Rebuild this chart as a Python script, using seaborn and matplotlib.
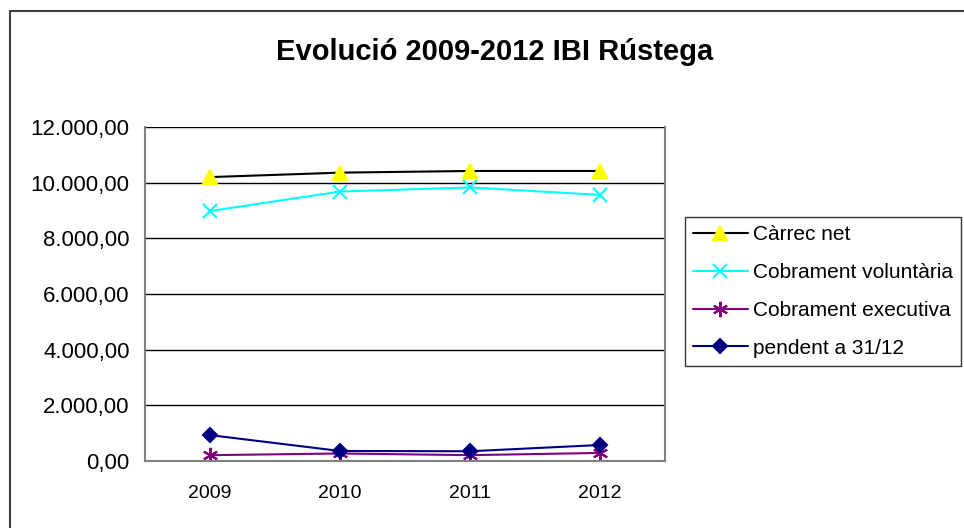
import numpy as np
import matplotlib.pyplot as plt
import matplotlib.ticker as mticker
from matplotlib.lines import Line2D
import seaborn as sns

# Data
years      = ['2009', '2010', '2011', '2012']
carrec_net = [10200, 10360, 10420, 10420]
cobr_vol   = [8980, 9680, 9830, 9560]
cobr_exec  = [210, 270, 210, 290]
pendent    = [930, 360, 350, 575]

series = [
    ('Càrrec net',            carrec_net, 'black',   '^',       '#FFFF00', 10),
    ('Cobrament voluntària',  cobr_vol,   '#00FFFF', 'x',       '#00FFFF', 10),
    ('Cobrament executiva',   cobr_exec,  '#800080', (6, 2, 0), '#800080', 11),
    ('pendent a 31/12',       pendent,    '#000080', 'D',       '#000080', 7.5),
]

sns.set_style('white')
plt.rcParams['font.family'] = ['Liberation Sans', 'DejaVu Sans']
plt.rcParams['text.color'] = 'black'

fig = plt.figure(figsize=(9.64, 5.28), dpi=100)
ax = fig.add_axes([145/964, 1 - 461/528, (665 - 145)/964, (461 - 127)/528])

x = np.arange(len(years))
for label, vals, col, mk, mcol, ms in series:
    sns.lineplot(x=x, y=vals, ax=ax, color=col, marker=mk, markersize=ms,
                 markerfacecolor=mcol, markeredgecolor=mcol, markeredgewidth=1.5,
                 linewidth=1.5, label=label, legend=False)

ax.set_xlim(-0.5, len(years) - 0.5)
ax.set_ylim(0, 12000)
ax.set_yticks(np.arange(0, 12001, 2000))
ax.yaxis.set_major_formatter(mticker.FuncFormatter(
    lambda v, p: f'{v:,.2f}'.replace(',', 'X').replace('.', ',').replace('X', '.')))
ax.set_xticks(x)
ax.set_xticklabels(years)
ax.set_xticks(np.arange(-0.5, len(years)), minor=True)
ax.grid(axis='y', color='black', linewidth=1)
ax.set_axisbelow(True)

for s in ['left', 'bottom', 'right']:
    ax.spines[s].set_color('#808080')
    ax.spines[s].set_linewidth(1.5)
ax.spines['top'].set_visible(False)
ax.tick_params(axis='x', which='major', length=0, pad=17, labelsize=14, labelcolor='black')
ax.tick_params(axis='x', which='minor', length=6, width=1.2, color='#808080', direction='out')
ax.tick_params(axis='y', length=6, width=1.2, color='#808080', direction='out',
               labelsize=16, pad=5, labelcolor='black')
ax.set_xlabel('')
ax.set_ylabel('')

fig.text(495/964, 1 - 52/528, 'Evolució 2009-2012 IBI Rústega',
         ha='center', va='center', fontsize=21, fontweight='bold', color='black')

handles = [Line2D([], [], color=col, marker=mk, markersize=ms, markerfacecolor=mcol,
                  markeredgecolor=mcol, markeredgewidth=1.5, linewidth=1.5)
           for _, _, col, mk, mcol, ms in series]
leg = fig.legend(handles, [s[0] for s in series], loc='upper left',
                 bbox_to_anchor=(685/964, 1 - 217/528), frameon=True, fancybox=False,
                 edgecolor='black', fontsize=15, labelspacing=0.9, handlelength=2.6,
                 handletextpad=0.25, borderpad=0.4, borderaxespad=0)
leg.get_frame().set_linewidth(1)
for t in leg.get_texts():
    t.set_color('black')

# outer chart frame (top and left edges visible)
fig.add_artist(Line2D([10/964, 1], [1 - 11/528, 1 - 11/528], transform=fig.transFigure,
                      color='#404040', linewidth=1.5))
fig.add_artist(Line2D([10/964, 10/964], [0, 1 - 11/528], transform=fig.transFigure,
                      color='#404040', linewidth=1.5))

fig.savefig('out.png', dpi=100)
